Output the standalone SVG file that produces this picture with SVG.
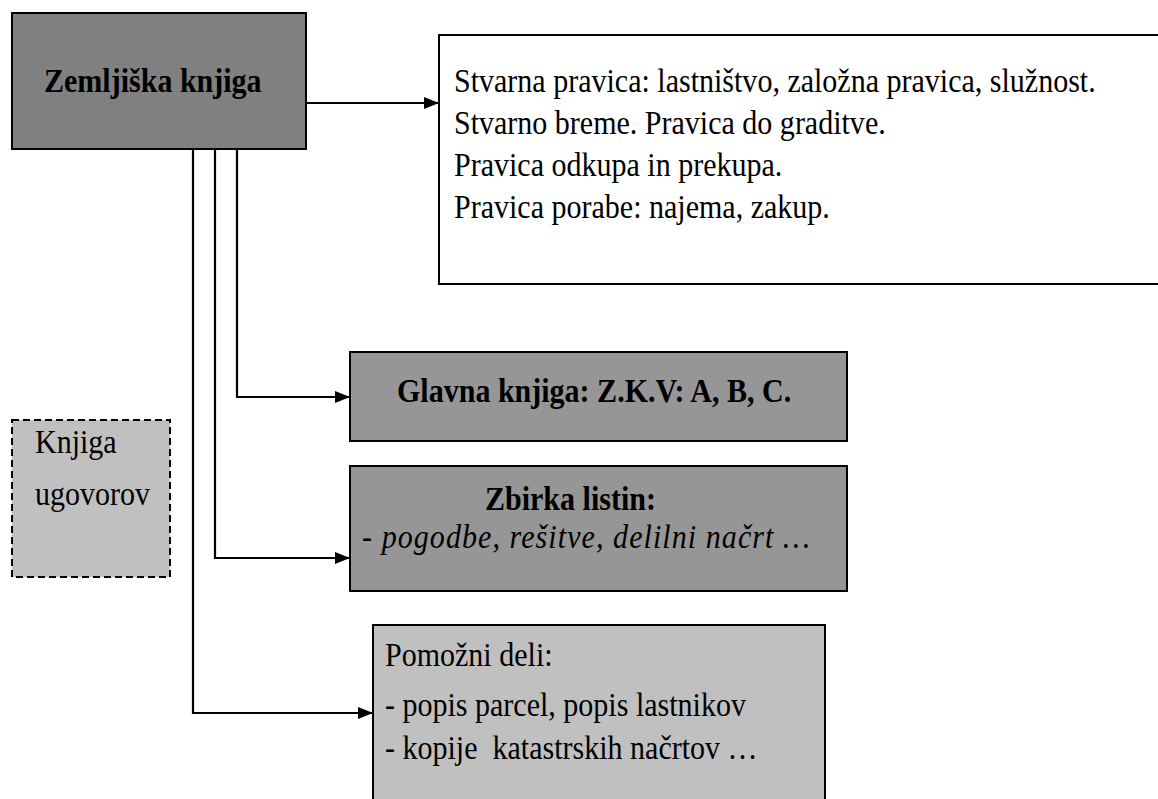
<svg xmlns="http://www.w3.org/2000/svg" width="1158" height="799" viewBox="0 0 1158 799">
<style>
  .box { stroke: #000; stroke-width: 2; }
  .t { font-family: "Liberation Serif", "Times New Roman", serif; font-size: 33px; fill: #000; }
  .b { font-weight: bold; }
  .i { font-style: italic; }
  .conn { fill: none; stroke: #000; stroke-width: 2.2; }
</style>
<defs>
  <marker id="arr" markerWidth="16" markerHeight="14" refX="14" refY="6" orient="auto" markerUnits="userSpaceOnUse">
    <path d="M0,0 L15,6 L0,12 Z" fill="#000"/>
  </marker>
</defs>
<rect width="1158" height="799" fill="#fff"/>

<g id="connectors">
  <path class="conn" d="M306,103 H438" marker-end="url(#arr)"/>
  <path class="conn" d="M237,149 V397 H349" marker-end="url(#arr)"/>
  <path class="conn" d="M215,149 V558 H349" marker-end="url(#arr)"/>
  <path class="conn" d="M193,149 V713 H372" marker-end="url(#arr)"/>
</g>

<g id="zemljiska-knjiga">
  <rect class="box" x="12" y="13" width="294" height="136" fill="#808080"/>
  <text class="t b" transform="translate(44 92) scale(0.91 1)">Zemljiška knjiga</text>
</g>

<g id="pravice">
  <rect class="box" x="439" y="35" width="730" height="249" fill="#fff"/>
  <text class="t" transform="translate(454 92) scale(0.91 1)">Stvarna pravica: lastništvo, založna pravica, služnost.</text>
  <text class="t" transform="translate(454 134) scale(0.91 1)">Stvarno breme. Pravica do graditve.</text>
  <text class="t" transform="translate(454 176) scale(0.91 1)">Pravica odkupa in prekupa.</text>
  <text class="t" transform="translate(454 218) scale(0.91 1)">Pravica porabe: najema, zakup.</text>
</g>

<g id="glavna-knjiga">
  <rect class="box" x="350" y="352" width="497" height="89" fill="#969696"/>
  <text class="t b" transform="translate(397 402) scale(0.91 1)">Glavna knjiga: Z.K.V: A, B, C.</text>
</g>

<g id="zbirka-listin">
  <rect class="box" x="350" y="466" width="497" height="125" fill="#969696"/>
  <text class="t b" transform="translate(485 510) scale(0.91 1)">Zbirka listin:</text>
  <text class="t i" transform="translate(362 548) scale(0.91 1)" textLength="492" lengthAdjust="spacing">- pogodbe, rešitve, delilni načrt …</text>
</g>

<g id="knjiga-ugovorov">
  <rect x="12" y="420" width="158" height="157" fill="#c0c0c0" stroke="#000" stroke-width="2" stroke-dasharray="7,4"/>
  <text class="t" transform="translate(35 453) scale(0.91 1)">Knjiga</text>
  <text class="t" transform="translate(35 505) scale(0.91 1)">ugovorov</text>
</g>

<g id="pomozni-deli">
  <rect class="box" x="373" y="625" width="452" height="190" fill="#c0c0c0"/>
  <text class="t" transform="translate(385 666) scale(0.91 1)">Pomožni deli:</text>
  <text class="t" transform="translate(385 716) scale(0.91 1)">- popis parcel, popis lastnikov</text>
  <text class="t" transform="translate(385 759) scale(0.91 1)">- kopije&#160; katastrskih načrtov …</text>
</g>
</svg>
